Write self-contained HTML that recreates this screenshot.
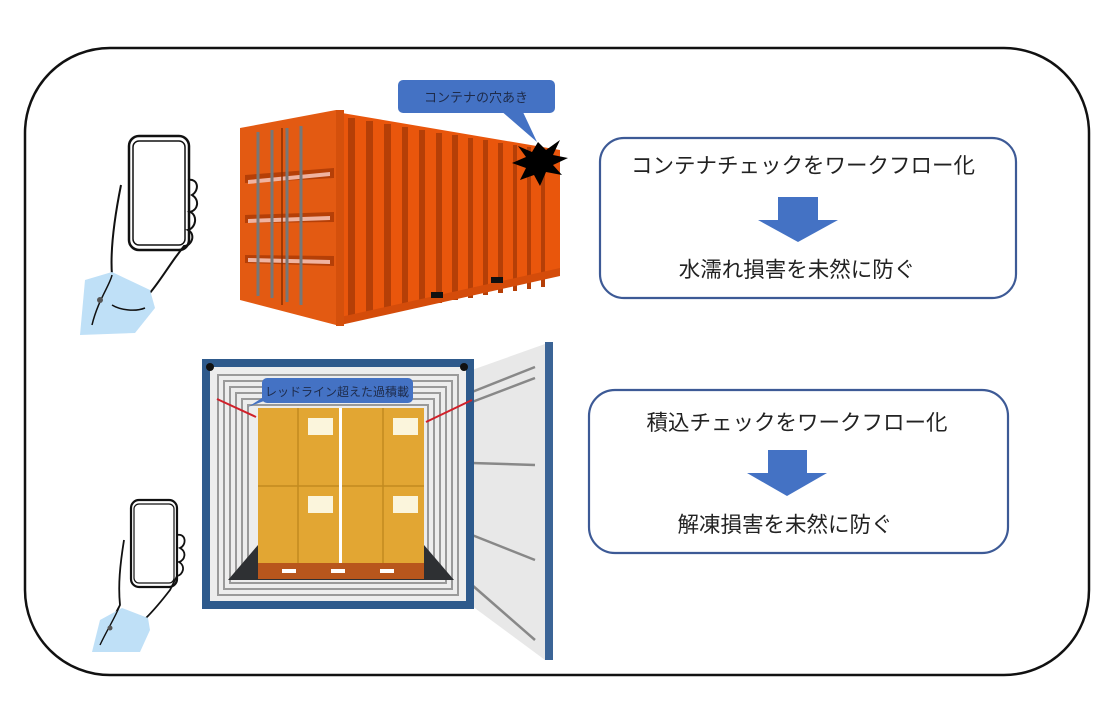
<!DOCTYPE html>
<html><head><meta charset="utf-8"><style>
html,body{margin:0;padding:0;background:#fff;}
svg{display:block;}
text{font-family:"Liberation Sans","Noto Sans CJK JP",sans-serif;}
</style></head><body>
<svg width="1098" height="716" viewBox="0 0 1098 716" xmlns="http://www.w3.org/2000/svg">
<rect x="0" y="0" width="1098" height="716" fill="#fff"/>
<rect x="25" y="48" width="1064" height="627" rx="85" ry="85" fill="#fff" stroke="#111" stroke-width="2.5"/>

<!-- right boxes -->
<rect x="600" y="138" width="416" height="160" rx="24" fill="#fff" stroke="#3d5a96" stroke-width="2.2"/>
<text x="803" y="173" font-size="21.5" text-anchor="middle" fill="#222">コンテナチェックをワークフロー化</text>
<rect x="778" y="197" width="40" height="23" fill="#4472c4"/>
<polygon points="758,220 838,220 798,242" fill="#4472c4"/>
<text x="797" y="277" font-size="21.5" text-anchor="middle" fill="#222">水濡れ損害を未然に防ぐ</text>

<rect x="589" y="390" width="419" height="163" rx="26" fill="#fff" stroke="#3d5a96" stroke-width="2.2"/>
<text x="797" y="430" font-size="21.5" text-anchor="middle" fill="#222">積込チェックをワークフロー化</text>
<rect x="768" y="450" width="39" height="23" fill="#4472c4"/>
<polygon points="747,473 827,473 787,496" fill="#4472c4"/>
<text x="785" y="532" font-size="21.5" text-anchor="middle" fill="#222">解凍損害を未然に防ぐ</text>

<!-- top container -->
<polygon points="336,112 560,150 560,272 336,322" fill="#e9560c"/>
<g fill="#b53f07">
<rect x="348" y="118" width="7" height="200"/><rect x="366" y="121" width="7" height="194"/><rect x="384" y="124" width="7" height="188"/>
<rect x="402" y="127" width="6" height="182"/><rect x="419" y="130" width="6" height="176"/><rect x="436" y="133" width="6" height="170"/>
<rect x="452" y="135" width="6" height="165"/><rect x="468" y="138" width="5" height="160"/><rect x="483" y="140" width="5" height="155"/>
<rect x="498" y="143" width="5" height="150"/><rect x="513" y="145" width="4" height="146"/><rect x="527" y="147" width="4" height="142"/>
<rect x="541" y="149" width="4" height="138"/>
</g>
<polygon points="336,318 560,268 560,276 336,326" fill="#d44c0a"/>
<polygon points="240,128 336,110 336,325 240,300" fill="#e35a12"/>
<rect x="336" y="110" width="8" height="216" fill="#d4500c"/>
<g fill="#b53f07">
<polygon points="245,175 334,168 334,178 245,183"/>
<polygon points="245,215 334,212 334,222 245,223"/>
<polygon points="245,255 334,256 334,266 245,263"/>
</g>
<g fill="#f0b3a0">
<polygon points="248,180 330,172 330,176 248,184"/>
<polygon points="248,219 330,216 330,220 248,223"/>
<polygon points="248,258 330,260 330,264 248,262"/>
</g>
<g stroke="#777" stroke-width="3">
<line x1="258" y1="132" x2="258" y2="296"/><line x1="272" y1="130" x2="272" y2="298"/>
<line x1="287" y1="128" x2="287" y2="302"/><line x1="301" y1="126" x2="301" y2="305"/>
</g>
<line x1="282" y1="128" x2="282" y2="305" stroke="#8a2e00" stroke-width="1.5"/>
<rect x="431" y="292" width="12" height="6" fill="#111"/><rect x="491" y="277" width="12" height="6" fill="#111"/>
<!-- burst -->
<polygon points="538,142 546,150 560,140 553,155 568,158 553,165 562,175 546,172 540,186 534,175 520,180 526,168 512,163 526,157 518,146 532,152" fill="#000"/>
<!-- callout top -->
<polygon points="500,110 522,110 537,142" fill="#4472c4"/>
<rect x="398" y="80" width="157" height="33" rx="5" fill="#4472c4"/>
<text x="476" y="102" font-size="13" text-anchor="middle" fill="#1e2b4a">コンテナの穴あき</text>

<!-- top hand -->
<rect x="129" y="136" width="60" height="114" rx="10" fill="#fff" stroke="#111" stroke-width="2.5"/>
<rect x="133" y="141" width="52" height="104" rx="6" fill="#fff" stroke="#111" stroke-width="1.5"/>
<path d="M121,185 C115,215 110,250 112,275 L100,300 M188,180 C198,178 200,190 192,195 C200,200 198,210 190,212 C198,215 196,228 188,230 C196,234 192,246 184,246 L175,258 C165,272 155,288 148,295" fill="none" stroke="#111" stroke-width="2"/>
<polygon points="85,280 112,272 150,290 155,308 135,333 80,335" fill="#bfe0f7"/>
<path d="M92,325 C98,300 110,285 112,275 M112,305 C120,310 135,312 145,308" fill="none" stroke="#111" stroke-width="1.5"/>
<circle cx="100" cy="300" r="3" fill="#555"/>

<!-- bottom container -->
<rect x="470" y="345" width="83" height="315" fill="#fff"/>
<polygon points="472,370 545,344 545,660 472,606" fill="#e8e8e8"/>
<g stroke="#888" stroke-width="2.5">
<line x1="472" y1="392" x2="535" y2="367"/><line x1="472" y1="402" x2="535" y2="378"/>
<line x1="472" y1="463" x2="535" y2="465"/><line x1="472" y1="535" x2="535" y2="560"/><line x1="472" y1="585" x2="535" y2="640"/>
</g>
<rect x="545" y="342" width="8" height="318" fill="#3b6496"/>
<rect x="206" y="363" width="264" height="242" fill="#ededed" stroke="#2e5a8c" stroke-width="8"/>
<g fill="none" stroke="#9a9a9a" stroke-width="2">
<rect x="218" y="375" width="240" height="220"/>
<rect x="224" y="381" width="228" height="208"/>
<rect x="230" y="387" width="216" height="196"/>
<rect x="236" y="393" width="204" height="186"/>
<rect x="242" y="399" width="192" height="176"/>
<rect x="248" y="405" width="180" height="166"/>
</g>
<polygon points="258,545 424,545 454,580 228,580" fill="#2e3033"/>
<circle cx="210" cy="367" r="4" fill="#111"/><circle cx="464" cy="367" r="4" fill="#111"/>
<rect x="258" y="408" width="166" height="78" fill="#e2a633"/>
<rect x="258" y="486" width="166" height="78" fill="#e2a633"/>
<g stroke="#c18a20" stroke-width="1.5">
<line x1="298" y1="408" x2="298" y2="564"/><line x1="383" y1="408" x2="383" y2="564"/><line x1="258" y1="486" x2="424" y2="486"/>
</g>
<rect x="339" y="408" width="3" height="155" fill="#fff"/>
<g fill="#fbf5dc">
<rect x="308" y="418" width="25" height="17"/><rect x="393" y="418" width="25" height="17"/>
<rect x="308" y="496" width="25" height="17"/><rect x="393" y="496" width="25" height="17"/>
</g>
<rect x="258" y="563" width="166" height="16" fill="#b8561c"/>
<g fill="#fff"><rect x="282" y="569" width="14" height="4"/><rect x="331" y="569" width="14" height="4"/><rect x="380" y="569" width="14" height="4"/></g>
<line x1="217" y1="399" x2="256" y2="417" stroke="#d0202a" stroke-width="2"/>
<line x1="426" y1="422" x2="472" y2="400" stroke="#d0202a" stroke-width="2"/>
<polygon points="262,398 272,398 248,407" fill="#4472c4"/>
<rect x="262" y="378" width="151" height="25" rx="5" fill="#4472c4"/>
<text x="337" y="396" font-size="12" text-anchor="middle" fill="#1e2b4a">レッドライン超えた過積載</text>

<!-- bottom hand -->
<rect x="131" y="500" width="46" height="87" rx="8" fill="#fff" stroke="#111" stroke-width="2.2"/>
<rect x="134" y="504" width="40" height="79" rx="5" fill="#fff" stroke="#111" stroke-width="1.2"/>
<path d="M124,540 C120,565 118,585 120,605 L112,620 M177,535 C186,533 187,545 180,548 C187,552 185,560 179,562 C186,566 183,575 177,576 L170,590 C160,603 152,612 146,618" fill="none" stroke="#111" stroke-width="1.8"/>
<polygon points="100,620 122,608 148,618 150,630 140,652 92,652" fill="#bfe0f7"/>
<path d="M100,645 C108,628 115,618 120,605" fill="none" stroke="#111" stroke-width="1.4"/>
<circle cx="110" cy="628" r="2.5" fill="#555"/>
</svg>
</body></html>
